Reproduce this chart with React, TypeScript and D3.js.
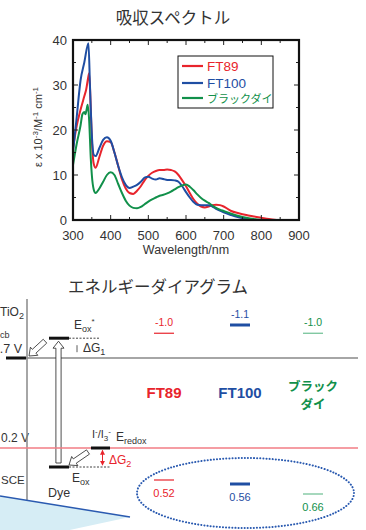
import * as d3 from "d3";
import React from "react";

// absorption spectra (nm, epsilon x 10^-3)
const wlFT89 = [300, 310, 320, 330, 335, 340, 343, 347, 350, 355, 360, 370, 380, 390, 400, 410, 420, 430, 440, 450, 460, 470, 480, 490, 500, 510, 520, 530, 540, 550, 560, 570, 580, 590, 600, 610, 620, 630, 640, 650, 660, 670, 680, 690, 700, 720, 740, 760, 780, 800, 820, 840];
const epsFT89 = [16, 21, 24.5, 27.5, 29, 31.5, 32.6, 25, 18, 12.5, 11.6, 14, 16.5, 17.5, 17.3, 15, 12, 9, 7, 6.0, 5.8, 6.5, 7.5, 8.8, 9.8, 10.5, 10.9, 11.1, 11.1, 11.2, 11.1, 10.8, 10.0, 8.8, 7.5, 6.0, 4.6, 3.6, 3.0, 2.8, 3.0, 3.3, 3.4, 3.3, 3.0, 2.0, 1.5, 1.1, 0.8, 0.5, 0.2, 0];

const wlFT100 = [300, 310, 320, 330, 341, 345, 350, 355, 360, 370, 380, 390, 400, 410, 420, 430, 440, 450, 460, 470, 480, 490, 500, 510, 520, 530, 540, 550, 560, 570, 580, 590, 600, 610, 620, 630, 640, 650, 660, 670, 680, 690, 700, 720, 740, 760, 780];
const epsFT100 = [15, 23, 31, 35, 39.3, 30, 19, 14.5, 14.2, 16, 17.8, 18.4, 17.6, 15, 12, 9.5, 7.8, 7.1, 7.4, 7.8, 8.5, 9.4, 9.6, 9.2, 9.0, 9.3, 9.1, 8.9, 8.9, 8.8, 8.5, 7.5, 6.2, 5.0, 4.0, 3.4, 3.3, 3.3, 3.3, 3.0, 2.5, 2.1, 1.7, 1.1, 0.6, 0.2, 0];

const wlBlack = [300, 310, 320, 325, 330, 333, 336, 339, 343, 347, 350, 355, 360, 370, 380, 390, 400, 410, 420, 430, 440, 450, 460, 470, 480, 490, 500, 510, 520, 530, 540, 550, 560, 570, 580, 590, 600, 610, 620, 630, 640, 650, 660, 670, 680, 690, 700, 720, 740, 760, 780, 800];
const epsBlack = [12.2, 17, 21, 23.5, 24, 23.5, 24.5, 25.6, 22, 14, 10, 6.8, 6.0, 7.0, 8.5, 10.0, 10.6, 10.0, 8.0, 6.0, 4.3, 3.2, 2.7, 2.6, 2.9, 3.5, 4.1, 4.6, 5.0, 5.4, 5.6, 5.9, 6.3, 6.8, 7.3, 7.7, 7.9, 7.4, 6.6, 5.7, 4.9, 4.3, 3.8, 3.2, 2.7, 2.3, 2.0, 1.4, 0.9, 0.5, 0.2, 0];

const seriesNames = ["FT89", "FT100", "ブラックダイ"];
const seriesColors = ["#e8242c", "#1f4ea3", "#11904a"];

const xTicks = [300, 400, 500, 600, 700, 800, 900];
const yTicks = [0, 10, 20, 30, 40];

// energy diagram (V vs SCE)
const dyeNames = ["FT89", "FT100", "ブラックダイ"];
const lumoLevels = [-1.0, -1.1, -1.0];
const homoLevels = [0.52, 0.56, 0.66];
const tio2Cb = -0.7;
const redox = 0.2;
const dyeExcited = -0.94;
const dyeGround = 0.39;

const W = 366;
const H = 530;

const blockArrow = (x1: number, y1: number, x2: number, y2: number, sw: number, hw: number, hl: number) => {
  const dx = x2 - x1, dy = y2 - y1;
  const L = Math.hypot(dx, dy);
  const ux = dx / L, uy = dy / L;
  const px = -uy, py = ux;
  const bx = x2 - ux * hl, by = y2 - uy * hl;
  const pts = [
    [x1 + px * sw, y1 + py * sw],
    [bx + px * sw, by + py * sw],
    [bx + px * hw, by + py * hw],
    [x2, y2],
    [bx - px * hw, by - py * hw],
    [bx - px * sw, by - py * sw],
    [x1 - px * sw, y1 - py * sw],
  ];
  return pts.map(p => p.join(",")).join(" ");
};

export default function App() {
  const x = d3.scaleLinear().domain([300, 900]).range([73, 299]);
  const y = d3.scaleLinear().domain([0, 40]).range([220, 40]);
  const line = d3.line<[number, number]>()
    .x(d => x(d[0]))
    .y(d => y(d[1]))
    .curve(d3.curveMonotoneX);
  const series = [
    d3.zip(wlFT89, epsFT89) as [number, number][],
    d3.zip(wlFT100, epsFT100) as [number, number][],
    d3.zip(wlBlack, epsBlack) as [number, number][],
  ];
  const minorX = d3.range(300, 901, 50);
  const minorY = d3.range(0, 41, 5);

  // potential scale, schematic (more negative = higher)
  const e = d3.scaleLinear().domain([-1.1, -0.7, 0.66]).range([325, 358, 494]);
  const colX = [164, 240, 313];
  const font = "'Liberation Sans', Arial, sans-serif";
  const jfont = "'Noto Sans CJK JP', sans-serif";
  const txt = "#333";

  return (
    <svg width={W} height={H} style={{ position: "absolute", left: 0, top: 0 }} fontFamily={font}>
      <rect width={W} height={H} fill="#fff" />
      {/* spectrum */}
      <text x={173} y={24} textAnchor="middle" fontFamily={jfont} fontSize={16.5} fill={txt}>吸収スペクトル</text>
      <g clipPath="url(#plotclip)">
        <clipPath id="plotclip"><rect x={73} y={40} width={226} height={180} /></clipPath>
        {series.map((s, i) => (
          <path key={i} d={line(s) ?? ""} fill="none" stroke={seriesColors[i]} strokeWidth={2} />
        ))}
      </g>
      {minorX.map(v => {
        const len = v % 100 === 0 ? 5 : 3;
        return (
          <g key={"xt" + v} stroke="#222" strokeWidth={1}>
            <line x1={x(v)} x2={x(v)} y1={220} y2={220 - len} />
            <line x1={x(v)} x2={x(v)} y1={40} y2={40 + len} />
          </g>
        );
      })}
      {minorY.map(v => {
        const len = v % 10 === 0 ? 5 : 3;
        return (
          <g key={"yt" + v} stroke="#222" strokeWidth={1}>
            <line x1={73} x2={73 + len} y1={y(v)} y2={y(v)} />
            <line x1={299} x2={299 - len} y1={y(v)} y2={y(v)} />
          </g>
        );
      })}
      <rect x={73} y={40} width={226} height={180} fill="none" stroke="#111" strokeWidth={2.2} />
      {xTicks.map(v => (
        <text key={"xl" + v} x={x(v)} y={240} textAnchor="middle" fontSize={13} fill={txt}>{v}</text>
      ))}
      {yTicks.map(v => (
        <text key={"yl" + v} x={67} y={y(v) + 5} textAnchor="end" fontSize={13} fill={txt}>{v}</text>
      ))}
      <text x={186} y={254} textAnchor="middle" fontSize={12.5} fill={txt}>Wavelength/nm</text>
      <text transform="translate(42,127) rotate(-90)" textAnchor="middle" fontSize={11} fill={txt}>
        ε x 10<tspan dy={-4} fontSize={8}>-3</tspan><tspan dy={4}>/M</tspan><tspan dy={-4} fontSize={8}>-1</tspan><tspan dy={4}> cm</tspan><tspan dy={-4} fontSize={8}>-1</tspan>
      </text>
      {/* legend */}
      <rect x={178} y={56} width={95} height={52} fill="#fff" stroke="#111" strokeWidth={1} />
      {seriesNames.map((n, i) => {
        const ly = [66, 83, 98][i];
        return (
          <g key={n}>
            <line x1={182} x2={203} y1={ly} y2={ly} stroke={seriesColors[i]} strokeWidth={2.2} />
            <text x={207} y={ly + 5} fontSize={i === 2 ? 11 : 13.5} fontFamily={i === 2 ? jfont : font} fill={seriesColors[i]}>{n}</text>
          </g>
        );
      })}

      {/* energy diagram */}
      <text x={158} y={293} textAnchor="middle" fontFamily={jfont} fontSize={16.5} fill={txt}>エネルギーダイアグラム</text>
      <text x={0} y={316} fontSize={12} fill={txt}>TiO<tspan dy={3} fontSize={9}>2</tspan></text>
      <text x={0} y={338} fontSize={9} fill={txt}>cb</text>
      <text x={22} y={e(tio2Cb) - 5} textAnchor="end" fontSize={12.5} fill={txt}>.7 V</text>
      <text x={1} y={e(redox) - 6} fontSize={12} fill={txt}>0.2 V</text>
      <text x={1} y={484} fontSize={11.5} fill={txt}>SCE</text>
      <line x1={27} x2={27} y1={299} y2={505} stroke="#888" strokeWidth={1.5} />
      <line x1={6} x2={358} y1={e(tio2Cb)} y2={e(tio2Cb)} stroke="#888" strokeWidth={1.5} />
      <line x1={6} x2={26} y1={e(tio2Cb)} y2={e(tio2Cb)} stroke="#111" strokeWidth={3} />
      {/* dye levels */}
      <line x1={49} x2={69} y1={e(dyeExcited)} y2={e(dyeExcited)} stroke="#111" strokeWidth={3} />
      <line x1={69} x2={100} y1={e(dyeExcited)} y2={e(dyeExcited)} stroke="#111" strokeWidth={0.8} strokeDasharray="2,1.5" />
      <line x1={49} x2={69} y1={e(dyeGround)} y2={e(dyeGround)} stroke="#111" strokeWidth={3} />
      <line x1={69} x2={110} y1={e(dyeGround)} y2={e(dyeGround)} stroke="#111" strokeWidth={0.8} strokeDasharray="2,1.5" />
      <polygon points={blockArrow(58.5, e(dyeGround) - 4, 58.5, e(dyeExcited) + 3, 2.6, 5.5, 7)} fill="#fff" stroke="#222" strokeWidth={0.8} />
      <polygon points={blockArrow(45, e(dyeExcited) + 3, 29, e(tio2Cb) - 2, 2.6, 5.5, 7)} fill="#fff" stroke="#222" strokeWidth={0.8} />
      <text x={74} y={e(dyeExcited) - 9} fontSize={12} fill={txt}>E<tspan dy={3} fontSize={9}>ox</tspan><tspan dy={-8} fontSize={8}>*</tspan></text>
      <line x1={77} x2={77} y1={e(dyeExcited) + 7} y2={e(dyeExcited) + 14} stroke="#333" strokeWidth={0.8} />
      <text x={83} y={e(dyeExcited) + 14} fontSize={12} fill={txt}>ΔG<tspan dy={3} fontSize={9}>1</tspan></text>
      <text x={72} y={e(dyeGround) + 15} fontSize={12} fill={txt}>E<tspan dy={3} fontSize={9}>ox</tspan></text>
      <text x={48} y={497} fontSize={12.5} fill={txt}>Dye</text>
      {/* redox */}
      <line x1={0} x2={358} y1={e(redox)} y2={e(redox)} stroke="#f27c84" strokeWidth={1.5} />
      <line x1={91} x2={110} y1={e(redox)} y2={e(redox)} stroke="#111" strokeWidth={3} />
      <polygon points={blockArrow(88, e(redox) + 4, 69, e(dyeGround) - 2, 2.6, 5.5, 7)} fill="#fff" stroke="#222" strokeWidth={0.8} />
      <text x={92} y={e(redox) - 10} fontSize={11} fill={txt}>I<tspan dy={-4} fontSize={8}>-</tspan><tspan dy={4}>/I</tspan><tspan dy={3} fontSize={8}>3</tspan><tspan dy={-7} fontSize={8}>-</tspan></text>
      <text x={116} y={e(redox) - 7} fontSize={12} fill={txt}>E<tspan dy={3} fontSize={9}>redox</tspan></text>
      <defs>
        <marker id="rh" viewBox="0 0 6 6" refX={5} refY={3} markerWidth={5} markerHeight={5} orient="auto-start-reverse">
          <path d="M0,0 L6,3 L0,6 z" fill="#e8242c" />
        </marker>
      </defs>
      <line x1={102.5} x2={102.5} y1={e(redox) + 2.5} y2={e(dyeGround) - 2} stroke="#e8242c" strokeWidth={1} markerStart="url(#rh)" markerEnd="url(#rh)" />
      <text x={109} y={e(dyeGround) - 3} fontSize={12} fill="#e8242c">ΔG<tspan dy={3} fontSize={9}>2</tspan></text>

      {/* dye columns */}
      {dyeNames.map((n, i) => {
        const c = seriesColors[i];
        const thick = i === 1;
        const lcol = i === 2 ? "#6cbf92" : c;
        return (
          <g key={"col" + n}>
            <text x={colX[i]} y={e(lumoLevels[i]) - 7} textAnchor="middle" fontSize={10.5} fill={c}>{lumoLevels[i].toFixed(1)}</text>
            <line x1={colX[i] - 10} x2={colX[i] + 10} y1={e(lumoLevels[i])} y2={e(lumoLevels[i])} stroke={lcol} strokeWidth={thick ? 3 : 1.2} />
            <line x1={colX[i] - 10} x2={colX[i] + 10} y1={e(homoLevels[i])} y2={e(homoLevels[i])} stroke={lcol} strokeWidth={thick ? 3 : 1.2} />
            <text x={colX[i]} y={e(homoLevels[i]) + 17} textAnchor="middle" fontSize={11} fill={c}>{homoLevels[i].toFixed(2)}</text>
          </g>
        );
      })}
      <text x={colX[0]} y={398} textAnchor="middle" fontSize={15} fontWeight="bold" fill={seriesColors[0]}>FT89</text>
      <text x={colX[1]} y={398} textAnchor="middle" fontSize={15} fontWeight="bold" fill={seriesColors[1]}>FT100</text>
      <text x={colX[2]} y={391} textAnchor="middle" fontSize={12.5} fontWeight="bold" fontFamily={jfont} fill={seriesColors[2]}>ブラック</text>
      <text x={colX[2]} y={409} textAnchor="middle" fontSize={12.5} fontWeight="bold" fontFamily={jfont} fill={seriesColors[2]}>ダイ</text>
      <ellipse cx={245.5} cy={493} rx={108.5} ry={35} fill="none" stroke="#2a5ab0" strokeWidth={2} strokeDasharray="0.1,3" strokeLinecap="round" />
      {/* light wedge */}
      <polygon points="0,496 130,517 0,545" fill="#d6edf5" stroke="none" />
      <line x1={0} x2={130} y1={496} y2={517} stroke="#2a5ab0" strokeWidth={1.5} />
    </svg>
  );
}
